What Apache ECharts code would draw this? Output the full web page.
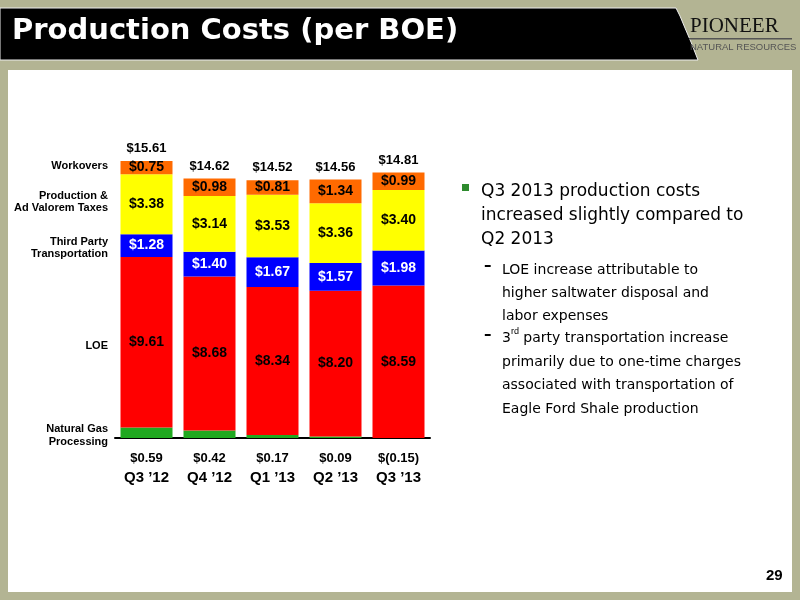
<!DOCTYPE html><html><head><meta charset="utf-8">
<script src="https://cdn.jsdelivr.net/npm/echarts@6/dist/echarts.min.js"></script>
<style>body{margin:0;background:#b3b493}#c{width:800px;height:600px}</style></head><body><div id="c"></div>
<script>
const categories=["Q3 \u201912","Q4 \u201912","Q1 \u201913","Q2 \u201913","Q3 \u201913"];
const gasProcessing=[0.59,0.42,0.17,0.09,-0.15];
const gasLabels=["$0.59","$0.42","$0.17","$0.09","$(0.15)"];
const loe=[9.61,8.68,8.34,8.20,8.59];
const transport=[1.28,1.40,1.67,1.57,1.98];
const taxes=[3.38,3.14,3.53,3.36,3.40];
const workovers=[0.75,0.98,0.81,1.34,0.99];
const totals=["$15.61","$14.62","$14.52","$14.56","$14.81"];
const chart=echarts.init(document.getElementById('c'));
const F='Liberation Sans, Arial, sans-serif';
function seg(name,data,color,txt,extra){
 return Object.assign({name,type:'bar',stack:'s',data,barWidth:52,
  itemStyle:{color},
  label:{show:true,position:'inside',color:txt,fontFamily:F,fontWeight:'bold',fontSize:14,formatter:p=>'$'+p.value.toFixed(2)}},extra||{});
}
const bandPts=[[0,8],[676,8],[680,16],[685,28],[691,42],[698,60],[0,60]];
const opt={
 animation:false,
 graphic:[
  {type:'rect',shape:{x:8,y:70,width:784,height:522},style:{fill:'#fff'},z:-10},
  {type:'polygon',shape:{points:bandPts},style:{fill:'#000',stroke:'#eee',lineWidth:1},z:-5},
  {type:'text',left:12,top:17,style:{text:'Production Costs (per BOE)',fill:'#fff',font:'bold 29px "DejaVu Sans", sans-serif'}},
  {type:'text',left:690,top:16,style:{text:'PIONEER',fill:'#111',font:'21px "Liberation Serif", serif'}},
  {type:'rect',shape:{x:689,y:38,width:103,height:1.5},style:{fill:'#555'}},
  {type:'text',left:690,top:42,style:{text:'NATURAL RESOURCES',fill:'#555',font:'9.5px "Liberation Sans", sans-serif'}},
  {type:'text',left:766,top:568,style:{text:'29',fill:'#000',font:'bold 15px "Liberation Sans", sans-serif'}},
  {type:'rect',shape:{x:462,y:184,width:7,height:7},style:{fill:'#2e8b2e'}},
  {type:'text',left:481,top:180,style:{text:'Q3 2013 production costs\nincreased slightly compared to\nQ2 2013',fill:'#000',font:'17px "DejaVu Sans", sans-serif',lineHeight:24}},
  {type:'text',left:484,top:259,style:{text:'\u2013',fill:'#000',font:'bold 15px "DejaVu Sans", sans-serif'}},
  {type:'text',left:502,top:259,style:{text:'LOE increase attributable to\nhigher saltwater disposal and\nlabor expenses',fill:'#000',font:'14px "DejaVu Sans", sans-serif',lineHeight:23}},
  {type:'text',left:484,top:328,style:{text:'\u2013',fill:'#000',font:'bold 15px "DejaVu Sans", sans-serif'}},
  {type:'text',left:502,top:327,style:{text:'3{s|rd} party transportation increase\nprimarily due to one-time charges\nassociated with transportation of\nEagle Ford Shale production',fill:'#000',font:'14px "DejaVu Sans", sans-serif',lineHeight:23.5,rich:{s:{fontSize:9,verticalAlign:'top',font:'9px "DejaVu Sans", sans-serif'}}}},
  {type:'text',x:108,y:160,style:{text:'Workovers',fill:'#000',font:'bold 11px "Liberation Sans", sans-serif',align:'right'}},
  {type:'text',x:108,y:190,style:{text:'Production &\nAd Valorem Taxes',fill:'#000',font:'bold 11px "Liberation Sans", sans-serif',align:'right',lineHeight:12}},
  {type:'text',x:108,y:236,style:{text:'Third Party\nTransportation',fill:'#000',font:'bold 11px "Liberation Sans", sans-serif',align:'right',lineHeight:12}},
  {type:'text',x:108,y:340,style:{text:'LOE',fill:'#000',font:'bold 11px "Liberation Sans", sans-serif',align:'right'}},
  {type:'text',x:108,y:422,style:{text:'Natural Gas\nProcessing',fill:'#000',font:'bold 11px "Liberation Sans", sans-serif',align:'right',lineHeight:13}}
 ],
 grid:{left:115,right:370,top:154,bottom:162},
 xAxis:{type:'category',data:categories,axisLine:{lineStyle:{color:'#000',width:2}},axisTick:{show:false},
  axisLabel:{interval:0,margin:8,fontFamily:F,color:'#000',formatter:(v,i)=>'{g|'+gasLabels[i]+'}\n{q|'+v+'}',
   rich:{g:{fontSize:13,fontWeight:'bold',fontFamily:F,height:24},q:{fontSize:15,fontWeight:'bold',fontFamily:F}}}},
 yAxis:{type:'value',min:0,max:16,show:false,splitLine:{show:false}},
 series:[
  seg('Natural Gas Processing',gasProcessing,'#1fa81f','#000',{label:{show:false}}),
  seg('LOE',loe,'#ff0000','#000'),
  seg('Third Party Transportation',transport,'#0000ff','#fff'),
  seg('Production & Ad Valorem Taxes',taxes,'#ffff00','#000'),
  seg('Workovers',workovers,'#ff6a00','#000'),
  {type:'bar',stack:'s',data:[0,0,0,0,0],barWidth:52,itemStyle:{color:'transparent'},
   label:{show:true,position:'top',distance:6,color:'#000',fontFamily:F,fontWeight:'bold',fontSize:13,formatter:p=>totals[p.dataIndex]}}
 ]
};
chart.setOption(opt);
</script></body></html>
